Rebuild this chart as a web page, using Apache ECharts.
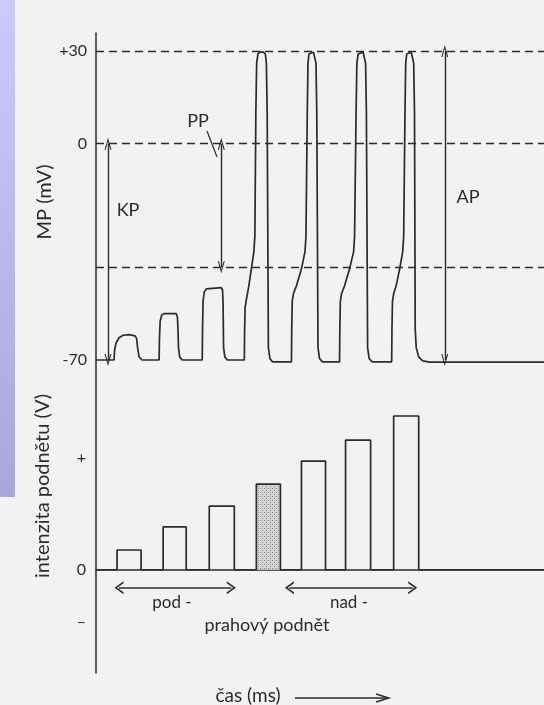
<!DOCTYPE html>
<html>
<head>
<meta charset="utf-8">
<script src="https://cdn.jsdelivr.net/npm/echarts@6/dist/echarts.min.js"></script>
<style>
  html, body { margin: 0; padding: 0; background: #f2f2f2; }
  #main { width: 544px; height: 705px; }
</style>
</head>
<body>
<div id="main"></div>
<script>
// membránový potenciál (mV) v čase, body [čas, mV]
var mpTrace = [
  [0, -70], [18, -70],
  [18.5, -67], [20, -64.5], [23, -62.8], [27, -62], [33, -61.8], [39, -62.2], [40.5, -63], [41.5, -66], [43, -69], [46, -70],
  [63, -70],
  [63.3, -63], [64, -57.5], [65.5, -55.5], [68, -55], [80, -55], [81.2, -56], [81.8, -60], [82.3, -66], [83.5, -69], [86, -70],
  [106, -70],
  [106.3, -60], [106.8, -51], [108, -48], [110, -47], [125, -46.6], [126.3, -47.5], [126.8, -52], [127.3, -66], [128.5, -69], [131, -70],
  [148, -70],
  [148.3, -60], [148.8, -53], [150, -50.5], [152.5, -46], [155, -40.5], [157.5, -35], [158.5, -30], [159.5, 10], [160.3, 26], [161.5, 29], [163.5, 29.6],
  [167, 29.6], [169, 29], [170, 26], [170.8, 10], [172, -66], [173.5, -69.5], [176, -70.6], [195, -70.6],
  [195.3, -60], [195.8, -51], [197, -48.5], [200, -46], [205, -40.5], [208.5, -35], [209.5, -30], [210.8, 10], [211.5, 26], [212.5, 29], [214, 29.6],
  [217, 29.6], [218.5, 29], [219.5, 26], [220.3, 10], [221.5, -66], [223, -69.5], [226, -70.6], [243, -70.6],
  [243.3, -60], [243.8, -51], [245, -48.5], [248, -46], [253, -40.5], [257, -35], [258, -30], [259.5, 10], [260.3, 26], [261.5, 29], [263, 29.6],
  [266.5, 29.6], [268, 29], [269, 26], [269.8, 10], [271, -66], [272.5, -69.5], [275.5, -70.6], [295, -70.6],
  [295.3, -60], [295.8, -51], [297, -48.5], [299.5, -46], [303, -40.5], [306, -35], [307, -30], [308.3, 10], [309, 26], [310, 29], [311.5, 29.6],
  [314.5, 29.6], [316, 29], [317, 26], [317.8, 10], [318.5, -60], [319.5, -66], [322, -69], [326, -70.3], [333, -70.7], [447, -70.7]
];
var mpTicks = [-70, 0, 30];
var mpLevels = [30, 0, -40];          // +30, 0, prahová hodnota

// podněty: [začátek, konec, intenzita]
var pulses = [
  [21, 45, 0.9],
  [67, 90, 1.95],
  [113, 138, 2.9],
  [160, 184, 3.9],
  [205, 229, 4.95],
  [249, 274, 5.9],
  [297, 322, 7.0]
];
var thresholdPulse = 3;               // index prahového (tečkovaného) podnětu
var stimTicks = [-2.35, 0, 5.1];
var timeEnd = 447;

// šipky: [x, y1, y2]
var mpArrows = [[12, 0, -70], [125, 0, -40], [348, 30, -70]];
// šipky pod- / nad-: [x1, x2, y]
var stimArrows = [[23, 135, -0.82], [193, 316, -0.82]];

var stimStep = [[0, 0]];
pulses.forEach(function (p) {
  stimStep.push([p[0], 0], [p[0], p[2]], [p[1], p[2]], [p[1], 0]);
});
stimStep.push([timeEnd, 0]);

var ink = "#2b2b2b";
var font = "Lato, 'DejaVu Sans', sans-serif";
var chevron = "path://M0,10 L5,0 L10,10 L8.4,10 L5,3 L1.6,10 Z";

// tečkovaná výplň prahového podnětu
var dots = document.createElement("canvas");
dots.width = 4;
dots.height = 4;
var dctx = dots.getContext("2d");
dctx.fillStyle = "#d6d6d6";
dctx.fillRect(0, 0, 4, 4);
dctx.fillStyle = "#8a8a8a";
dctx.fillRect(0, 0, 1, 1);
dctx.fillRect(2, 2, 1, 1);
dctx.fillStyle = "#b0b0b0";
dctx.fillRect(2, 0, 1, 1);

var myChart = echarts.init(document.getElementById("main"));
var tp = pulses[thresholdPulse];

var option = {
  backgroundColor: "#f2f2f2",
  animation: false,
  grid: [
    { left: 96, right: 0, top: 33, height: 327 },
    { left: 96, right: 0, top: 360, bottom: 32 }
  ],
  xAxis: [
    { type: "value", gridIndex: 0, min: 0, max: timeEnd, show: false },
    {
      type: "value", gridIndex: 1, min: 0, max: timeEnd,
      axisLine: { lineStyle: { color: ink, width: 1.5 } },
      axisTick: { show: false }, axisLabel: { show: false }, splitLine: { show: false }
    }
  ],
  yAxis: [
    {
      type: "value", gridIndex: 0, min: -70, max: 35.8,
      axisLine: { show: true, lineStyle: { color: ink, width: 1.5 } },
      axisTick: { show: false }, splitLine: { show: false },
      axisLabel: {
        customValues: mpTicks, margin: 9, color: ink, fontSize: 16, fontFamily: font,
        formatter: function (v) { return v > 0 ? "+" + v : String(v); }
      }
    },
    {
      type: "value", gridIndex: 1, min: -4.7, max: 9.55,
      axisLine: { show: true, lineStyle: { color: ink, width: 1.5 } },
      axisTick: { show: false }, splitLine: { show: false },
      axisLabel: {
        customValues: stimTicks, margin: 10, color: ink, fontSize: 16, fontFamily: font,
        formatter: function (v) { return v > 0 ? "+" : (v < 0 ? "–" : "0"); }
      }
    }
  ],
  series: [
    {
      type: "line", xAxisIndex: 0, yAxisIndex: 0, data: mpTrace, clip: false,
      symbol: "none", lineStyle: { color: ink, width: 1.7 },
      markLine: {
        silent: true, symbol: "none", label: { show: false },
        lineStyle: { color: ink, width: 1.4, type: [8, 5] },
        data: mpLevels.map(function (v) { return { yAxis: v }; })
      }
    },
    {
      type: "line", xAxisIndex: 0, yAxisIndex: 0, data: [],
      markLine: {
        silent: true, symbol: [chevron, chevron], symbolSize: [7, 12], label: { show: false },
        lineStyle: { color: ink, width: 1.4, type: "solid" },
        data: mpArrows.map(function (a) { return [{ coord: [a[0], a[1]] }, { coord: [a[0], a[2]] }]; })
      }
    },
    {
      type: "line", xAxisIndex: 1, yAxisIndex: 1, data: stimStep, clip: false,
      symbol: "none", lineStyle: { color: ink, width: 1.7 },
      markArea: {
        silent: true,
        itemStyle: { color: { image: dots, repeat: "repeat" } },
        data: [[{ coord: [tp[0], 0] }, { coord: [tp[1], tp[2]] }]]
      }
    },
    {
      type: "line", xAxisIndex: 1, yAxisIndex: 1, data: [],
      markLine: {
        silent: true, symbol: [chevron, chevron], symbolSize: [13, 9], label: { show: false },
        lineStyle: { color: ink, width: 1.6, type: "solid" },
        data: stimArrows.map(function (a) { return [{ coord: [a[0], a[2]] }, { coord: [a[1], a[2]] }]; })
      }
    }
  ],
  graphic: [
    {
      type: "rect", left: 0, top: 0, z: -1,
      shape: { width: 15, height: 497 },
      style: {
        fill: new echarts.graphic.LinearGradient(0, 0, 0, 1, [
          { offset: 0, color: "#cacafb" },
          { offset: 1, color: "#a7a7db" }
        ])
      }
    },
    { type: "text", x: 45, y: 202, rotation: Math.PI / 2, style: { text: "MP (mV)", font: "20px " + font, fill: ink, align: "center", verticalAlign: "middle" } },
    { type: "text", x: 43, y: 486, rotation: Math.PI / 2, style: { text: "intenzita podnětu (V)", font: "20px " + font, fill: ink, align: "center", verticalAlign: "middle" } },
    { type: "text", x: 128, y: 210, style: { text: "KP", font: "18px " + font, fill: ink, align: "center", verticalAlign: "middle" } },
    { type: "text", x: 198, y: 121, style: { text: "PP", font: "18px " + font, fill: ink, align: "center", verticalAlign: "middle" } },
    { type: "line", shape: { x1: 207, y1: 131, x2: 217, y2: 157 }, style: { stroke: ink, lineWidth: 1.2 } },
    { type: "text", x: 468, y: 197, style: { text: "AP", font: "18px " + font, fill: ink, align: "center", verticalAlign: "middle" } },
    { type: "text", x: 172, y: 603, style: { text: "pod -", font: "17px " + font, fill: ink, align: "center", verticalAlign: "middle" } },
    { type: "text", x: 349, y: 603, style: { text: "nad -", font: "17px " + font, fill: ink, align: "center", verticalAlign: "middle" } },
    { type: "text", x: 267, y: 625, style: { text: "prahový podnět", font: "18px " + font, fill: ink, align: "center", verticalAlign: "middle" } },
    { type: "text", x: 248, y: 696, style: { text: "čas (ms)", font: "19px " + font, fill: ink, align: "center", verticalAlign: "middle" } },
    { type: "line", shape: { x1: 295, y1: 698, x2: 388, y2: 698 }, style: { stroke: ink, lineWidth: 1.4 } },
    { type: "polyline", shape: { points: [[376, 694], [389, 698], [376, 702]] }, style: { stroke: ink, lineWidth: 1.4, fill: null } }
  ]
};
myChart.setOption(option);
</script>
</body>
</html>
